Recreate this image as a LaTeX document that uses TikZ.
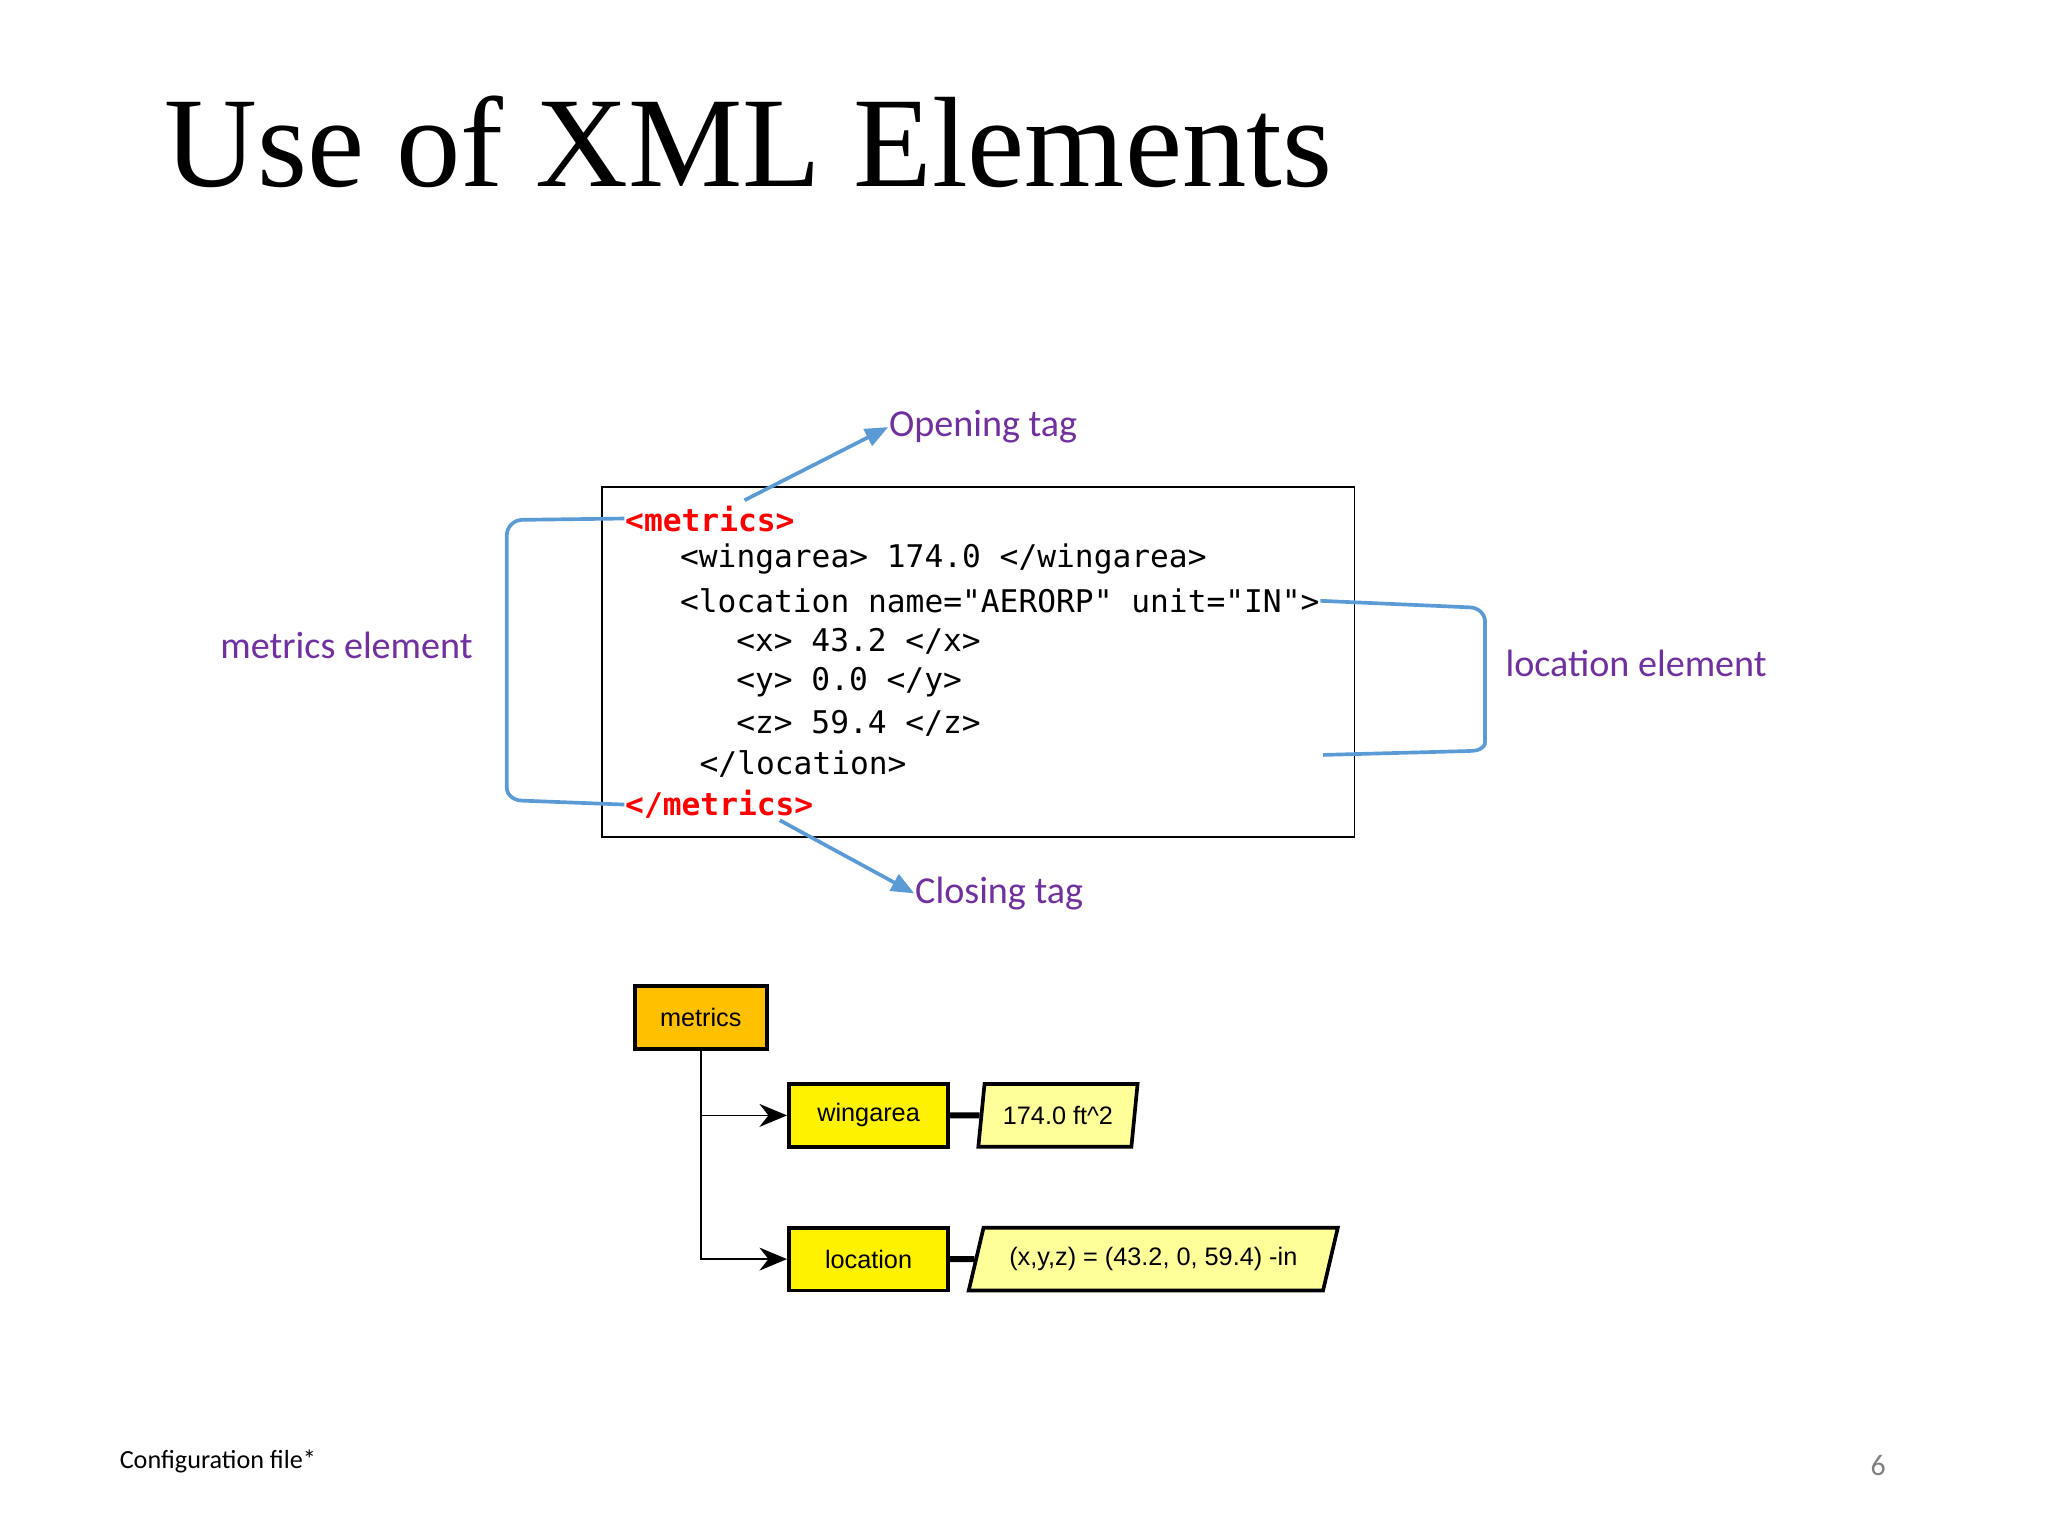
\documentclass[tikz,border=0pt]{standalone}
\usepackage{fontspec}
\setmainfont{Liberation Serif}
\newfontfamily\calib{Carlito}
\newfontfamily\codefont{DejaVu Sans Mono}
\newfontfamily\arialfont{Liberation Sans}
\usetikzlibrary{shapes.geometric,arrows.meta}
\definecolor{lblpurple}{HTML}{7030A0}
\definecolor{lnblue}{HTML}{5B9BD5}
\definecolor{gold}{HTML}{FFC000}
\definecolor{paleyel}{HTML}{FFFF99}
\tikzset{
  code/.style={anchor=west,inner sep=0pt,font=\codefont\fontsize{6.8}{8}\selectfont},
  tag/.style={code,text=red,font=\codefont\bfseries\fontsize{6.8}{8}\selectfont},
  lbl/.style={anchor=west,inner sep=0pt,text=lblpurple,font=\calib\fontsize{8.3}{10}\selectfont},
  elem/.style={draw,thick,fill=yellow,minimum width=1.22cm,minimum height=0.48cm,inner sep=0pt,font=\arialfont\fontsize{5.5}{6}\selectfont},
  val/.style={draw,thick,fill=paleyel,trapezium,trapezium stretches=true,minimum height=0.48cm,inner sep=0pt,font=\arialfont\fontsize{5.5}{6}\selectfont},
}
\begin{document}
\begin{tikzpicture}[x=0.01cm,y=-0.01cm]
\useasboundingbox (0,0) rectangle (1568,1176);

	%Title and footer
	\node[anchor=base west,inner sep=0pt,font=\fontsize{28}{32}\selectfont] (title) at (125,143) {Use of XML Elements};
	\node[anchor=west,inner sep=0pt,font=\calib\fontsize{5.7}{7}\selectfont] (foot) at (91,1119) {Configuration file*};
	\node[anchor=center,inner sep=0pt,text=gray,font=\calib\fontsize{6.5}{8}\selectfont] (page) at (1438,1122) {6};

	%Code box
	\draw[thin] (461,373) rectangle (1037,641);
	\node[tag] (open) at (478,397) {<metrics>};
	\node[code] (l1) at (520,428) {<wingarea> 174.0 </wingarea>};
	\node[code] (l2) at (520,460) {<location name="AERORP" unit="IN">};
	\node[code] (l3) at (563,491) {<x> 43.2 </x>};
	\node[code] (l4) at (563,522) {<y> 0.0 </y>};
	\node[code] (l5) at (563,554) {<z> 59.4 </z>};
	\node[code] (l6) at (535,585) {</location>};
	\node[tag] (close) at (478,616) {</metrics>};

	%Labels
	\node[lbl] (optag) at (680,327) {Opening tag};
	\node[lbl] (cltag) at (700,684) {Closing tag};
	\node[lbl] (melem) at (168,494) {metrics element};
	\node[lbl] (lelem) at (1152,508) {location element};

	%Pointers to tags
	\coordinate (opfoot) at (570,383);
	\coordinate (clfoot) at (597,628);
	\draw[lnblue,thick,-{Triangle[length=5pt,width=4pt]}] (opfoot) -- (optag.west);
	\draw[lnblue,thick,-{Triangle[length=5pt,width=4pt]}] (clfoot) -- (cltag.west);

	%Brackets
	\draw[lnblue,thick] (open.west) -- (400,398) to[out=180,in=90] (388,410) -- (388,603)
		to[out=-90,in=180] (400,613) -- (close.west);
	\draw[lnblue,thick] (l2.east) -- (1125,465) to[out=0,in=90] (1137,476) -- (1137,568)
		to[out=-90,in=0] (1125,575) -- (1013,578);

	%Tree
	\node[draw,thick,fill=gold,minimum width=1.01cm,minimum height=0.48cm,inner sep=0pt,
		font=\arialfont\fontsize{5.5}{6}\selectfont] (metrics) at (536.5,779) {metrics};
	\node[elem] (wing) at (665,854) {wingarea};
	\node[elem] (loc) at (665,964) {location};
	\node[val,trapezium left angle=76,trapezium right angle=104,minimum width=1.22cm] (wval) at (810,854) {174.0 ft\^{}2};
	\node[val,trapezium left angle=62,trapezium right angle=118,minimum width=2.84cm] (lval) at (883,964) {(x,y,z) = (43.2, 0, 59.4) -in};
	\draw[-{Stealth[length=6pt,width=5pt]}] (metrics.south) |- (wing.west);
	\draw[-{Stealth[length=6pt,width=5pt]}] (metrics.south) |- (loc.west);
	\draw[line width=1.3pt] (wing.east) -- (wval.west);
	\draw[line width=1.3pt] (loc.east) -- (lval.west);

\end{tikzpicture}
\end{document}
